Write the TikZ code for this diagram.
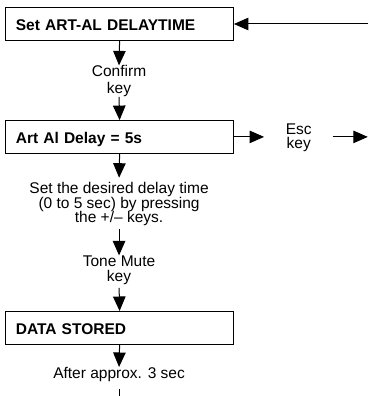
\documentclass[tikz,border=0pt]{standalone}
\usepackage{fontspec}
\setmainfont{Liberation Sans}
\usetikzlibrary{arrows.meta}
\tikzset{
  stepbox/.style={draw, line width=1.1pt, anchor=west, minimum width=227.5pt,
    minimum height=32.5pt, text width=207.5pt, inner xsep=10pt, inner ysep=0pt,
    align=left, text height=12.6pt, text depth=0pt,
    font=\bfseries\fontsize{15.5}{15}\selectfont},
  lbl/.style={inner sep=0pt, anchor=north, align=center},
  conn/.style={line width=1pt, -{Triangle[length=14.5pt,width=12.5pt]}},
  plain/.style={line width=1pt}
}
\begin{document}
\begin{tikzpicture}[x=1pt,y=-1pt]
\useasboundingbox (0,0) rectangle (368,396);
\node[stepbox] (b1) at (5.3,24) {Set ART-AL DELAYTIME};
\node[stepbox] (b2) at (5.3,136.9) {Art Al Delay = 5s};
\node[stepbox] (b3) at (5.3,327.8) {DATA STORED};
\node[lbl, font=\fontsize{15.5}{16.6}\selectfont] (t1) at (119.05,65.4) {Confirm\\key};
\node[lbl, font=\fontsize{15.5}{14.7}\selectfont] (t2) at (119.05,182) {Set the desired delay time\\(0 to 5 sec) by pressing\\the +/– keys.};
\node[lbl, font=\fontsize{15.5}{15}\selectfont] (t3) at (119.05,255.4) {Tone Mute\\key};
\node[lbl, font=\fontsize{15.5}{15}\selectfont] (t4) at (119.05,367) {After approx. 3 sec};
\node[lbl, font=\fontsize{15.5}{13.6}\selectfont] (esc) at (298.8,123.9) {Esc\\key};
\coordinate (inR) at (368,24);
\coordinate (outR) at (367.8,136.9);
\coordinate (endB) at (119.05,396);
\draw[conn] (b1.south) -- (t1.north);
\draw[conn] (t1.south) -- (b2.north);
\draw[conn, shorten >=4.3pt] (b2.south) -- (t2.north);
\draw[conn, shorten <=3pt] (t2.south) -- (t3.north);
\draw[conn, shorten <=3.3pt] (t3.south) -- (b3.north);
\draw[conn] (b3.south) -- (t4.north);
\draw[plain, shorten <=6.7pt] (t4.south) -- (endB);
\draw[conn] (inR) -- (b1.east);
\draw[conn, shorten >=21.6pt] (b2.east) -- (b2.east -| esc.west);
\draw[conn, shorten <=20.6pt] (esc.east |- b2.east) -- (outR);
\end{tikzpicture}
\end{document}
